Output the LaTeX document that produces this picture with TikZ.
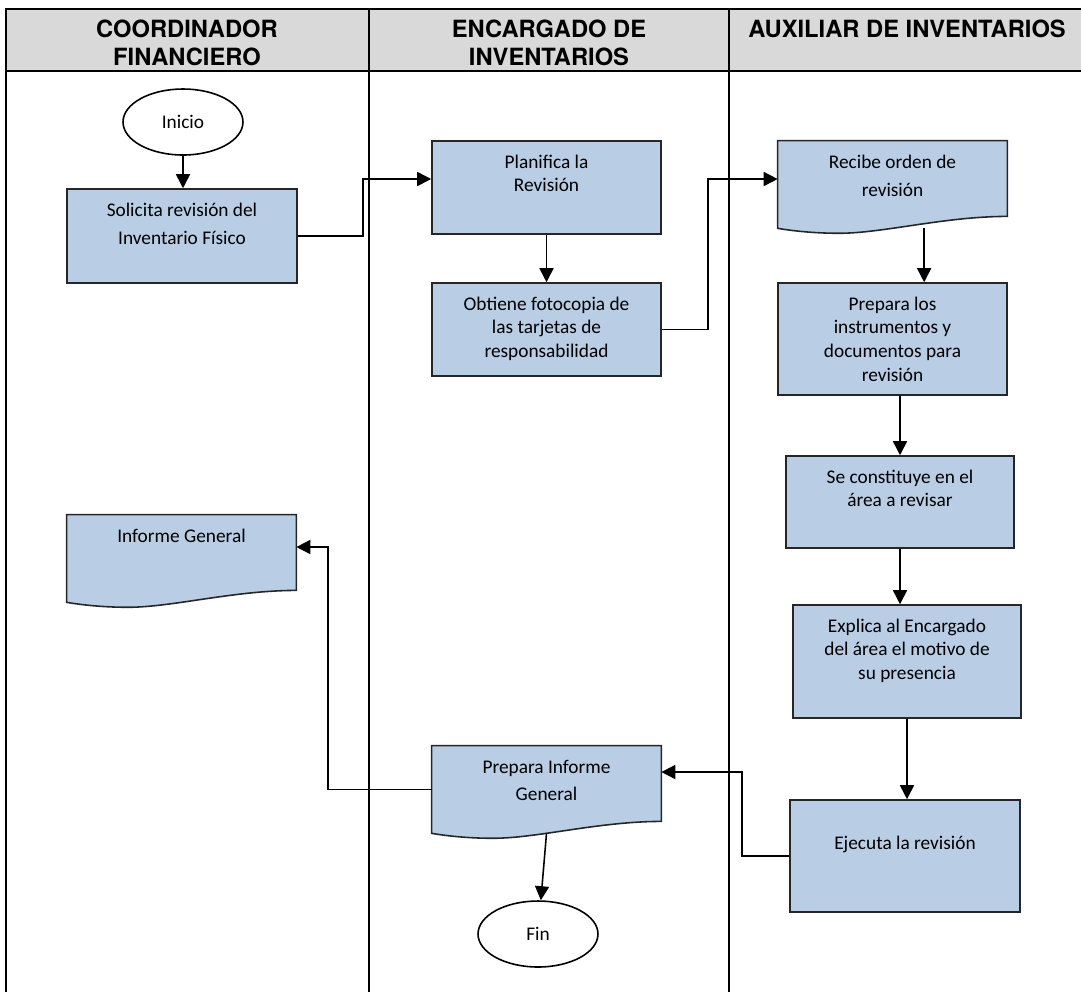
\documentclass[tikz,border=0pt]{standalone}
\usepackage{fontspec}
\setmainfont{Carlito}
\newfontfamily\headfont{TeX Gyre Heros}
\usetikzlibrary{shapes.geometric,arrows.meta}

\definecolor{boxblue}{HTML}{B9CDE5}
\definecolor{headgray}{HTML}{D9D9D9}

% document symbol drawn round an empty node
\newcommand{\docoutline}[1]{%
  \draw[docline] (#1.south west) -- (#1.north west) -- (#1.north east) -- ([yshift=6.8pt]#1.south east)
    .. controls ([xshift=95pt,yshift=6.8pt]#1.south west) and ([xshift=60pt,yshift=-2.8pt]#1.south west) .. ([xshift=35pt,yshift=-2.8pt]#1.south west)
    .. controls ([xshift=24pt,yshift=-2.8pt]#1.south west) and ([xshift=12pt,yshift=-2pt]#1.south west) .. (#1.south west) -- cycle;}

\begin{document}
\begin{tikzpicture}[x=0.02cm,y=-0.02cm,>={Triangle[length=8pt,width=8pt]},
    proc/.style={rectangle,draw=black!85,line width=0.9pt,fill=boxblue,minimum width=4.6cm,minimum height=1.86cm},
    docu/.style={rectangle,minimum width=4.58cm,minimum height=1.74cm},
    docline/.style={draw=black!85,line width=0.9pt,fill=boxblue},
    term/.style={ellipse,draw=black,line width=0.9pt,minimum width=2.4cm,minimum height=1.32cm,inner sep=0pt,font=\fontsize{11}{13.6}\selectfont},
    txt/.style={anchor=north,inner sep=0pt,align=center,font=\fontsize{11}{13.6}\selectfont},
    head/.style={anchor=north,inner sep=0pt,align=center,font=\headfont\bfseries\fontsize{13.5}{15.9}\selectfont},
    lane/.style={line width=1.2pt},
    flow/.style={line width=0.9pt}]
  \useasboundingbox (0,0) rectangle (1081,992);

  % lanes
  \fill[headgray] (6,9) rectangle (1081,71);
  \draw[lane] (6,992) -- (6,9) -- (1081,9);
  \draw[lane] (6,71) -- (1081,71);
  \draw[lane] (369,9) -- (369,992);
  \draw[lane] (729,9) -- (729,992);
  \node[head] (coord) at (187,20) {COORDINADOR\\FINANCIERO};
  \node[head] (encarg) at (549,20) {ENCARGADO DE\\INVENTARIOS};
  \node[head] (aux) at (907,20) {AUXILIAR DE INVENTARIOS};

  % coordinador financiero
  \node[term] (inicio) at (183,122) {Inicio};
  \node[proc,minimum height=1.88cm] (solicita) at (182,236) {};
  \node[docu] (informe) at (181.5,558.5) {};
  \docoutline{informe}

  % encargado de inventarios
  \node[proc,minimum width=4.58cm] (planifica) at (546.5,187.5) {};
  \node[proc,minimum width=4.58cm] (obtiene) at (546.5,329.5) {};
  \node[docu] (prepinf) at (546.5,789.5) {};
  \docoutline{prepinf}
  \node[term] (fin) at (538,934) {Fin};

  % auxiliar de inventarios
  \node[docu] (recibe) at (892.5,184.5) {};
  \docoutline{recibe}
  \node[proc,minimum width=4.58cm,minimum height=2.24cm] (preparalos) at (892.5,339) {};
  \node[proc,minimum width=4.56cm,minimum height=1.84cm] (constituye) at (900,502) {};
  \node[proc,minimum width=4.56cm,minimum height=2.26cm] (explica) at (907,661.5) {};
  \node[proc,minimum width=4.6cm,minimum height=2.24cm] (ejecuta) at (905,856) {};

  % texts
  \node[txt] (solicita-t) at ([yshift=-8pt]solicita.north) {Solicita revisión del\\[2.8pt]Inventario Físico};
  \node[txt] (informe-t) at ([yshift=-8pt]informe.north) {Informe General};
  \node[txt] (planifica-t) at ([yshift=-8pt]planifica.north) {Planifica la\\Revisión};
  \node[txt] (obtiene-t) at ([yshift=-8pt]obtiene.north) {Obtiene fotocopia de\\las tarjetas de\\responsabilidad};
  \node[txt] (prepinf-t) at ([yshift=-8pt]prepinf.north) {Prepara Informe\\[2pt]General};
  \node[txt] (recibe-t) at ([yshift=-8pt]recibe.north) {Recibe orden de\\[2.5pt]revisión};
  \node[txt] (preparalos-t) at ([yshift=-8pt]preparalos.north) {Prepara los\\instrumentos y\\documentos para\\revisión};
  \node[txt] (constituye-t) at ([yshift=-8pt]constituye.north) {Se constituye en el\\área a revisar};
  \node[txt] (explica-t) at ([yshift=-8pt]explica.north) {Explica al Encargado\\del área el motivo de\\su presencia};
  \node[txt] (ejecuta-t) at ([yshift=-21pt]ejecuta.north) {Ejecuta la revisión};

  % flow
  \coordinate (k1) at (363,179);
  \coordinate (k2) at (708,179);
  \coordinate (k3) at (742,772);
  \coordinate (k4) at (328,547);
  \draw[flow,->] (inicio.south) -- (inicio.south |- solicita.north);
  \draw[flow,->] (solicita.east) -| (k1) -- (k1 -| planifica.west);
  \draw[flow,->] (planifica) -- (obtiene);
  \draw[flow,->] (obtiene.east) -| (k2) -- (k2 -| recibe.west);
  \draw[flow,->] ([xshift=18pt]recibe.south) -- ([xshift=18pt]recibe.south |- preparalos.north);
  \draw[flow,->] (constituye.north |- preparalos.south) -- (constituye.north);
  \draw[flow,->] (constituye.south) -- (constituye.south |- explica.north);
  \draw[flow,->] (explica.south) -- (explica.south |- ejecuta.north);
  \draw[flow,->] (ejecuta.west) -| (k3) -- (k3 -| prepinf.east);
  \draw[flow,->] (prepinf.west) -| (k4) -- (k4 -| informe.east);
  \draw[flow,->] (prepinf.south) -- (fin);
\end{tikzpicture}
\end{document}
